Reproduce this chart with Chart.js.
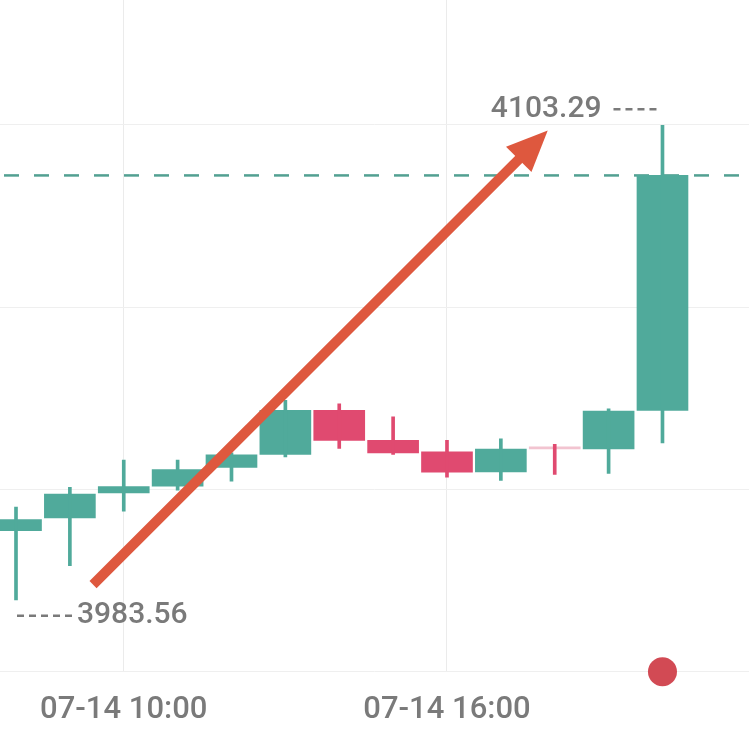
<!DOCTYPE html>
<html lang="en">
<head>
  <meta charset="UTF-8" />
  <title>Candles 07-14</title>
  <script src="https://cdn.jsdelivr.net/npm/chart.js"></script>
  <style>
    html, body { margin: 0; padding: 0; background: #fff; overflow: hidden; }
    /* slightly taller than the window so the plot area ends where the original does */
    .chart-box { position: relative; width: 749px; height: 749px; }
  </style>
</head>
<body>
  <div class="chart-box">
    <canvas id="candles"></canvas>
  </div>

  <script>
    // hourly candles, 07-14
    const categories = ['07-14 08:00', '07-14 09:00', '07-14 10:00', '07-14 11:00', '07-14 12:00',
      '07-14 13:00', '07-14 14:00', '07-14 15:00', '07-14 16:00', '07-14 17:00',
      '07-14 18:00', '07-14 19:00', '07-14 20:00'];
    const opens  = [4001.01, 4004.20, 4010.53, 4012.22, 4016.95, 4020.24, 4031.37, 4023.80, 4020.90, 4015.84, 4021.66, 4021.66, 4031.37];
    const closes = [4003.80, 4010.27, 4012.14, 4016.44, 4020.14, 4031.37, 4023.78, 4020.64, 4015.76, 4021.58, 4021.66, 4031.19, 4090.64];
    const highs  = [4006.98, 4011.97, 4018.80, 4018.80, 4020.64, 4033.90, 4033.04, 4029.75, 4023.78, 4024.19, 4022.77, 4031.78, 4103.29];
    const lows   = [3983.56, 3992.16, 4005.90, 4011.21, 4013.49, 4019.63, 4021.76, 4020.24, 4014.50, 4013.66, 4015.18, 4015.43, 4023.17];

    // which candles get a time label on the x axis
    const labeledIndexes = [2, 8];
    // horizontal grid lines (price)
    const gridPrices = [3965.4, 4011.4, 4057.4, 4103.4];
    // trend arrow drawn over the chart: [index, price]
    const arrowFrom = [1.43, 3987.4];
    const arrowTo = [9.87, 4102.0];
    // red marker below the last candle
    const markerPoint = [{ x: 12, y: 3965.4 }];

    const GREEN = 'rgb(80, 170, 155)';
    const RED = 'rgb(224, 74, 112)';
    const DOJI = 'rgb(242, 196, 208)';
    const GRAY_TEXT = '#7a7a7a';

    function candleColor(i) {
      return closes[i] > opens[i] ? GREEN : RED;
    }

    const annotations = {
      id: 'annotations',
      beforeDatasetsDraw(chart) {
        const { ctx, chartArea, scales } = chart;
        const last = closes[closes.length - 1];
        const y = scales.y.getPixelForValue(last);
        ctx.save();
        ctx.strokeStyle = 'rgb(82, 160, 146)';
        ctx.lineWidth = 2.5;
        ctx.setLineDash([15, 15]);
        ctx.lineDashOffset = 26;
        ctx.beginPath();
        ctx.moveTo(chartArea.left, y);
        ctx.lineTo(chartArea.right, y);
        ctx.stroke();
        ctx.restore();
      },
      afterDatasetsDraw(chart) {
        const { ctx, scales } = chart;
        const x = scales.x, y = scales.y;

        // highest high / lowest low labels
        const hi = highs.indexOf(Math.max(...highs));
        const lo = lows.indexOf(Math.min(...lows));
        ctx.save();
        ctx.font = '500 30px Roboto';
        ctx.fillStyle = GRAY_TEXT;
        ctx.strokeStyle = GRAY_TEXT;
        ctx.lineWidth = 2.5;
        ctx.setLineDash([7, 5]);
        ctx.textBaseline = 'middle';

        const hx = x.getPixelForValue(hi);
        const hy = y.getPixelForValue(highs[hi]) - 16;
        ctx.beginPath();
        ctx.moveTo(hx - 49, hy);
        ctx.lineTo(hx - 6, hy);
        ctx.stroke();
        ctx.textAlign = 'right';
        ctx.fillText(highs[hi].toFixed(2), hx - 61, hy);

        const lx = x.getPixelForValue(lo);
        const ly = y.getPixelForValue(lows[lo]) + 16;
        ctx.beginPath();
        ctx.moveTo(lx + 1, ly);
        ctx.lineTo(lx + 56, ly);
        ctx.stroke();
        ctx.textAlign = 'left';
        ctx.fillText(lows[lo].toFixed(2), lx + 61, ly);
        ctx.restore();

        // arrow
        const x1 = x.getPixelForValue(arrowFrom[0]), y1 = y.getPixelForValue(arrowFrom[1]);
        const x2 = x.getPixelForValue(arrowTo[0]), y2 = y.getPixelForValue(arrowTo[1]);
        const ang = Math.atan2(y2 - y1, x2 - x1);
        const headLen = 41, headHalf = 18;
        const bx = x2 - headLen * Math.cos(ang), by = y2 - headLen * Math.sin(ang);
        ctx.save();
        ctx.strokeStyle = 'rgb(222, 88, 62)';
        ctx.fillStyle = 'rgb(222, 88, 62)';
        ctx.lineWidth = 10;
        ctx.beginPath();
        ctx.moveTo(x1, y1);
        ctx.lineTo(bx + 2 * Math.cos(ang), by + 2 * Math.sin(ang));
        ctx.stroke();
        ctx.beginPath();
        ctx.moveTo(x2, y2);
        ctx.lineTo(bx + headHalf * Math.sin(ang), by - headHalf * Math.cos(ang));
        ctx.lineTo(bx - headHalf * Math.sin(ang), by + headHalf * Math.cos(ang));
        ctx.closePath();
        ctx.fill();
        ctx.restore();
      }
    };

    const wicks = categories.map((c, i) => ({ x: i, y: [lows[i], highs[i]] }));
    const bodies = categories.map((c, i) => ({ x: i, y: [opens[i], closes[i]] }));

    const config = {
      type: 'bar',
      data: {
        datasets: [
          {
            type: 'scatter',
            data: markerPoint,
            pointRadius: 14.5,
            pointBackgroundColor: 'rgb(210, 74, 84)',
            pointBorderWidth: 0,
            clip: false,
            order: 0
          },
          {
            label: 'wick',
            data: wicks,
            grouped: false,
            barThickness: 3,
            backgroundColor: ctx => candleColor(ctx.dataIndex),
            order: 1
          },
          {
            label: 'body',
            data: bodies,
            grouped: false,
            barThickness: 51,
            minBarLength: 2,
            backgroundColor: ctx => opens[ctx.dataIndex] === closes[ctx.dataIndex] ? DOJI : candleColor(ctx.dataIndex),
            order: 2
          }
        ]
      },
      options: {
        responsive: true,
        maintainAspectRatio: false,
        animation: false,
        events: [],
        layout: { autoPadding: false, padding: 0 },
        plugins: {
          legend: { display: false },
          tooltip: { enabled: false }
        },
        scales: {
          x: {
            type: 'linear',
            offset: false,
            min: -0.297,
            max: 13.606,
            afterBuildTicks: axis => { axis.ticks = labeledIndexes.map(v => ({ value: v })); },
            grid: { offset: false, color: '#ebebeb', lineWidth: 1, drawTicks: false },
            border: { display: false },
            ticks: {
              padding: 20,
              color: GRAY_TEXT,
              font: { family: 'Roboto', size: 31, weight: '500' },
              maxRotation: 0,
              autoSkip: false,
              callback: value => categories[value]
            }
          },
          y: {
            min: 3965.4,
            max: 4134.9,
            afterBuildTicks: axis => { axis.ticks = gridPrices.map(v => ({ value: v })); },
            grid: { color: '#efefef', lineWidth: 1, drawTicks: false },
            border: { display: false },
            ticks: { display: false }
          }
        }
      },
      plugins: [annotations]
    };

    new Chart(document.getElementById('candles'), config);
  </script>
</body>
</html>
